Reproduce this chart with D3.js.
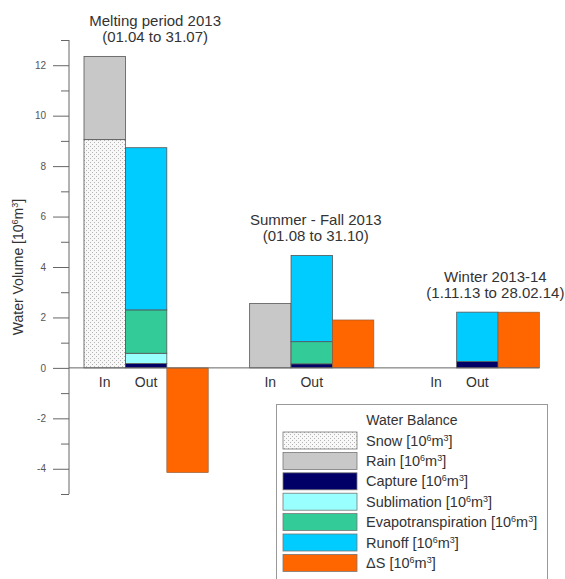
<!DOCTYPE html>
<html>
<head>
<meta charset="utf-8">
<script src="https://cdn.jsdelivr.net/npm/d3@7"></script>
<style>
  html, body { margin: 0; padding: 0; background: #fff; }
  svg { display: block; font-family: "Liberation Sans", Arial, sans-serif; }
</style>
</head>
<body>
<svg id="chart" width="565" height="579"></svg>
<script>
// Seasonal water balance: inputs (In), outputs (Out) and storage change (ΔS), 10^6 m^3
const periods = ["Melting period 2013", "Summer - Fall 2013", "Winter 2013-14"];
const periodDates = ["(01.04 to 31.07)", "(01.08 to 31.10)", "(1.11.13 to 28.02.14)"];

// inputs
const snow = [9.05, 0, 0];
const rain = [3.30, 2.55, 0];
// outputs
const capture = [0.17, 0.16, 0.25];
const sublimation = [0.41, 0, 0];
const evapotranspiration = [1.72, 0.88, 0];
const runoff = [6.43, 3.42, 1.96];
// storage change
const deltaS = [-4.15, 1.90, 2.21];

const barLabels = ["In", "Out"];
const yTicks = d3.range(-5, 14);

const legendItems = [
  { key: "snow", label: "Snow" },
  { key: "rain", label: "Rain" },
  { key: "capture", label: "Capture" },
  { key: "sublimation", label: "Sublimation" },
  { key: "evapotranspiration", label: "Evapotranspiration" },
  { key: "runoff", label: "Runoff" },
  { key: "deltaS", label: "\u0394S" }
];

const fills = {
  snow: "url(#stipple)",
  rain: "#c8c8c8",
  capture: "#000066",
  sublimation: "#99ffff",
  evapotranspiration: "#33cc99",
  runoff: "#00ccff",
  deltaS: "#ff6600"
};

const svg = d3.select("#chart");
const textColor = "#333";
const axisColor = "#666";

// stipple pattern for snow
const defs = svg.append("defs");
const pat = defs.append("pattern")
  .attr("id", "stipple").attr("patternUnits", "userSpaceOnUse")
  .attr("width", 4).attr("height", 4);
pat.append("rect").attr("width", 4).attr("height", 4).attr("fill", "#f8f8f8");
pat.append("rect").attr("x", 0).attr("y", 0).attr("width", 1).attr("height", 1).attr("fill", "#b4b4b4");
pat.append("rect").attr("x", 2).attr("y", 2).attr("width", 1).attr("height", 1).attr("fill", "#b4b4b4");

// scales: 11 slots = 3 groups of 3 bars separated by one empty slot
const x = d3.scaleBand().domain(d3.range(11)).range([84, 539.5]).padding(0);
const y = d3.scaleLinear().domain([-5, 13]).range([494, 40]);
const slot = (g, j) => g * 4 + j;

// table rows for stacking
const rows = periods.map((p, i) => ({
  period: i,
  snow: snow[i], rain: rain[i],
  capture: capture[i], sublimation: sublimation[i],
  evapotranspiration: evapotranspiration[i], runoff: runoff[i]
}));

const inStack = d3.stack().keys(["snow", "rain"])(rows);
const outStack = d3.stack().keys(["capture", "sublimation", "evapotranspiration", "runoff"])(rows);

const bars = svg.append("g");

function drawStack(stack, j) {
  stack.forEach(layer => {
    bars.selectAll(null)
      .data(layer.filter(d => d[1] - d[0] > 0))
      .join("rect")
      .attr("x", d => x(slot(d.data.period, j)))
      .attr("width", x.bandwidth())
      .attr("y", d => y(d[1]))
      .attr("height", d => y(d[0]) - y(d[1]))
      .attr("fill", fills[layer.key])
      .attr("stroke", "#555")
      .attr("stroke-width", 0.8);
  });
}
drawStack(inStack, 0);
drawStack(outStack, 1);

bars.selectAll(null)
  .data(deltaS)
  .join("rect")
  .attr("x", (d, i) => x(slot(i, 2)))
  .attr("width", x.bandwidth())
  .attr("y", d => y(Math.max(0, d)))
  .attr("height", d => Math.abs(y(d) - y(0)))
  .attr("fill", fills.deltaS)
  .attr("stroke", "#8a5a3a")
  .attr("stroke-width", 0.6);

// zero line
svg.append("line")
  .attr("x1", 69).attr("x2", x.range()[1])
  .attr("y1", y(0)).attr("y2", y(0))
  .attr("stroke", axisColor).attr("stroke-width", 1);

// y axis: minor tick every unit, labelled major tick every 2
const axis = svg.append("g")
  .attr("transform", "translate(69,0)")
  .call(d3.axisLeft(y).tickValues(yTicks).tickSize(8).tickPadding(4)
    .tickFormat(d => d % 2 === 0 ? String(d) : ""));
axis.select(".domain").attr("stroke", axisColor).attr("d", `M0,${y(13)}V${y(-5)}`);
axis.selectAll(".tick line").attr("stroke", axisColor)
  .filter(d => d % 2 === 0).attr("x2", -16);
axis.selectAll(".tick text")
  .attr("x", -23)
  .attr("fill", "#555")
  .style("font-size", "10px")
  .style("font-family", "'Liberation Sans', Arial, sans-serif");

// y axis title
const yTitle = svg.append("text")
  .attr("transform", `translate(23,${267}) rotate(-90)`)
  .attr("text-anchor", "middle")
  .attr("fill", textColor)
  .style("font-size", "14px");
yTitle.append("tspan").text("Water Volume [10");
yTitle.append("tspan").attr("dy", -5).style("font-size", "9px").text("6");
yTitle.append("tspan").attr("dy", 5).text("m");
yTitle.append("tspan").attr("dy", -5).style("font-size", "9px").text("3");
yTitle.append("tspan").attr("dy", 5).text("]");

// In / Out labels
periods.forEach((p, g) => {
  barLabels.forEach((lab, j) => {
    svg.append("text")
      .attr("x", x(slot(g, j)) + x.bandwidth() / 2)
      .attr("y", 387)
      .attr("text-anchor", "middle")
      .attr("fill", textColor)
      .style("font-size", "14px")
      .text(lab);
  });
});

// period titles above each group
const titleShift = [9, 4, 18];
periods.forEach((p, g) => {
  const top = Math.max(snow[g] + rain[g],
    capture[g] + sublimation[g] + evapotranspiration[g] + runoff[g], deltaS[g]);
  const cx = x(slot(g, 1)) + x.bandwidth() / 2 + titleShift[g];
  const base = y(top) - 14;
  svg.append("text").attr("x", cx).attr("y", base - 16)
    .attr("text-anchor", "middle").attr("fill", textColor)
    .style("font-size", "15px").text(p);
  svg.append("text").attr("x", cx).attr("y", base)
    .attr("text-anchor", "middle").attr("fill", textColor)
    .style("font-size", "15px").text(periodDates[g]);
});

// legend
const lg = svg.append("g");
lg.append("rect")
  .attr("x", 276.5).attr("y", 404.5).attr("width", 271).attr("height", 200)
  .attr("fill", "#fff").attr("stroke", "#999").attr("stroke-width", 1);
lg.append("text")
  .attr("x", 412).attr("y", 425).attr("text-anchor", "middle")
  .attr("fill", textColor).style("font-size", "14px").text("Water Balance");

const rowsG = lg.selectAll("g.item").data(legendItems).join("g")
  .attr("class", "item")
  .attr("transform", (d, i) => `translate(0,${432 + i * 20.4})`);
rowsG.append("rect")
  .attr("x", 283).attr("y", 0).attr("width", 74).attr("height", 17)
  .attr("fill", d => fills[d.key])
  .attr("stroke", "#777").attr("stroke-width", 0.8);
const lt = rowsG.append("text")
  .attr("x", 366).attr("y", 13.5)
  .attr("fill", textColor).style("font-size", "14.5px");
lt.append("tspan").text(d => d.label + " [10");
lt.append("tspan").attr("dy", -5).style("font-size", "9px").text("6");
lt.append("tspan").attr("dy", 5).text("m");
lt.append("tspan").attr("dy", -5).style("font-size", "9px").text("3");
lt.append("tspan").attr("dy", 5).text("]");
</script>
</body>
</html>
